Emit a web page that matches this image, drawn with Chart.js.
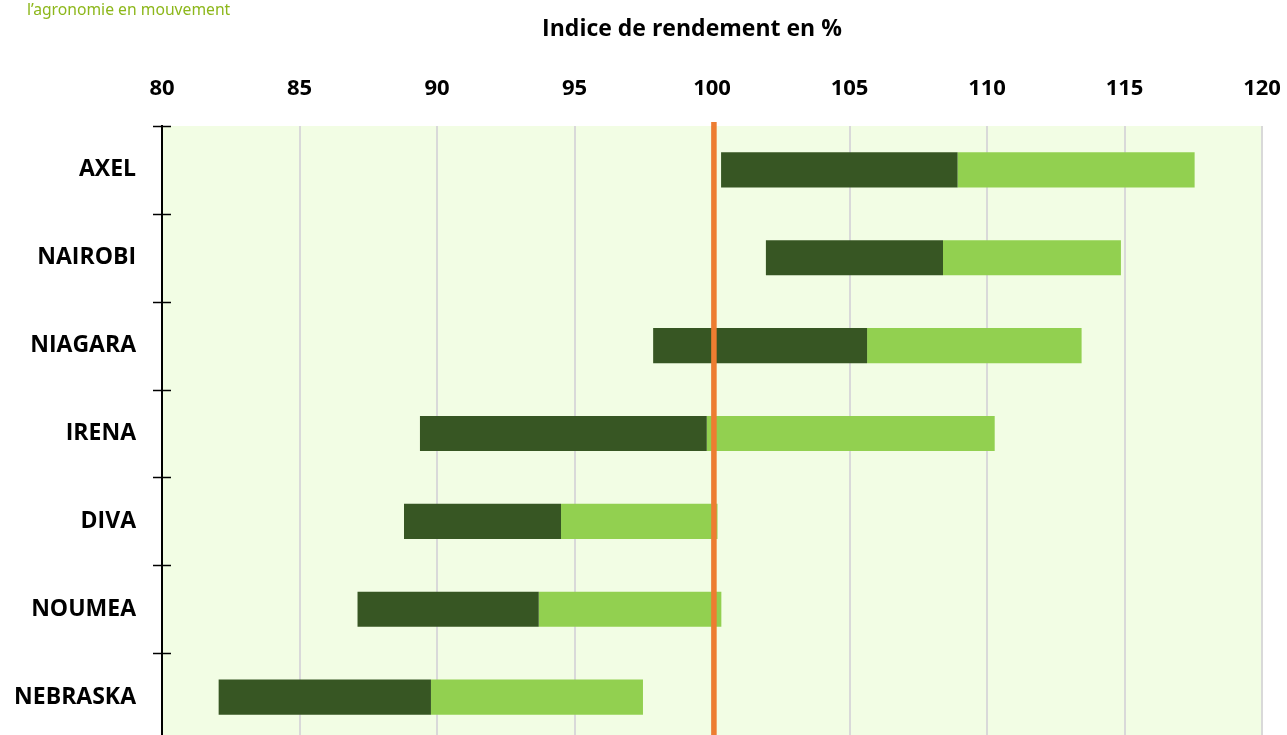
<!DOCTYPE html>
<html>
<head>
<meta charset="utf-8">
<script src="https://cdn.jsdelivr.net/npm/chart.js@4.4.1/dist/chart.umd.min.js"></script>
<style>
  html, body { margin: 0; padding: 0; background: #fff; overflow: hidden; }
  #wrap { position: relative; width: 1287px; height: 742px; }
  #logo { position: absolute; left: 27px; top: 0px; font: 15.7px "Noto Sans", sans-serif; color: #8DB71B; line-height: 18px; white-space: nowrap; }
  #title { position: absolute; left: 492px; width: 400px; top: 13px; text-align: center; font: bold 23px "Open Sans", sans-serif; color: #000; line-height: 28px; }
  canvas { position: absolute; left: 0; top: 0; }
</style>
</head>
<body>
<div id="wrap">
  <canvas id="c" width="1287" height="742"></canvas>
  <div id="logo">l’agronomie en mouvement</div>
  <div id="title">Indice de rendement en %</div>
</div>
<script>
const categories = ['AXEL', 'NAIROBI', 'NIAGARA', 'IRENA', 'DIVA', 'NOUMEA', 'NEBRASKA'];
const startValues = [100.33, 101.96, 97.86, 89.38, 88.80, 87.11, 82.06];
const midValues   = [108.93, 108.40, 105.64, 99.81, 94.51, 93.70, 89.78];
const endValues   = [117.55, 114.87, 113.44, 110.28, 100.20, 100.34, 97.49];
const referenceValue = 100.07;
const xMin = 80, xMax = 120, xStep = 5;

const lowerRange = categories.map((c, i) => [startValues[i], midValues[i]]);
const upperRange = categories.map((c, i) => [midValues[i], endValues[i]]);

const plotBg = {
  id: 'plotBg',
  beforeDraw(chart) {
    const { ctx, chartArea: a } = chart;
    ctx.save();
    ctx.fillStyle = '#F2FDE4';
    ctx.fillRect(a.left, a.top, a.right - a.left, a.bottom - a.top);
    ctx.restore();
  }
};

const refLine = {
  id: 'refLine',
  afterDatasetsDraw(chart) {
    const { ctx, chartArea: a } = chart;
    const x = chart.scales.x.getPixelForValue(referenceValue);
    ctx.save();
    ctx.strokeStyle = '#ED7D31';
    ctx.lineWidth = 5.5;
    ctx.beginPath();
    ctx.moveTo(x, a.top - 4);
    ctx.lineTo(x, a.bottom);
    ctx.stroke();
    ctx.restore();
  }
};

const crossTicks = {
  id: 'crossTicks',
  afterDraw(chart) {
    const { ctx } = chart;
    const y = chart.scales.y;
    const half = (y.getPixelForValue(1) - y.getPixelForValue(0)) / 2;
    const x = y.right;
    ctx.save();
    ctx.strokeStyle = '#000';
    ctx.lineWidth = 1.5;
    for (let i = 0; i <= categories.length; i++) {
      const py = Math.round(y.getPixelForValue(i) - half) + 0.5;
      ctx.beginPath();
      ctx.moveTo(x - 9, py);
      ctx.lineTo(x + 9, py);
      ctx.stroke();
    }
    ctx.restore();
  }
};

new Chart(document.getElementById('c'), {
  type: 'bar',
  data: {
    labels: categories,
    datasets: [
      { label: 'bas', data: lowerRange, backgroundColor: '#375623', barPercentage: 0.4, categoryPercentage: 1.0, grouped: false },
      { label: 'haut', data: upperRange, backgroundColor: '#92D050', barPercentage: 0.4, categoryPercentage: 1.0, grouped: false }
    ]
  },
  options: {
    indexAxis: 'y',
    responsive: false,
    animation: false,
    devicePixelRatio: 1,
    layout: { padding: { left: 0, right: 25, top: 0, bottom: 1 } },
    plugins: { legend: { display: false }, tooltip: { enabled: false }, title: { display: false } },
    scales: {
      x: {
        position: 'top',
        min: xMin, max: xMax,
        afterFit(s) { s.height = 126; s.paddingLeft = 0; s.paddingRight = 0; },
        ticks: { stepSize: xStep, padding: 24, color: '#000', font: { family: '"Open Sans", sans-serif', size: 22, weight: 'bold' } },
        grid: { color: '#D9D9D9', lineWidth: 2, drawTicks: false },
        border: { display: false }
      },
      y: {
        afterFit(s) { s.width = 162; s.paddingTop = 0; s.paddingBottom = 0; },
        ticks: { padding: 26, color: '#000', font: { family: '"Open Sans", sans-serif', size: 23, weight: 'bold' } },
        grid: { display: true, drawOnChartArea: false, drawTicks: false },
        border: { display: true, color: '#000', width: 2 }
      }
    }
  },
  plugins: [plotBg, refLine, crossTicks]
});
</script>
</body>
</html>
